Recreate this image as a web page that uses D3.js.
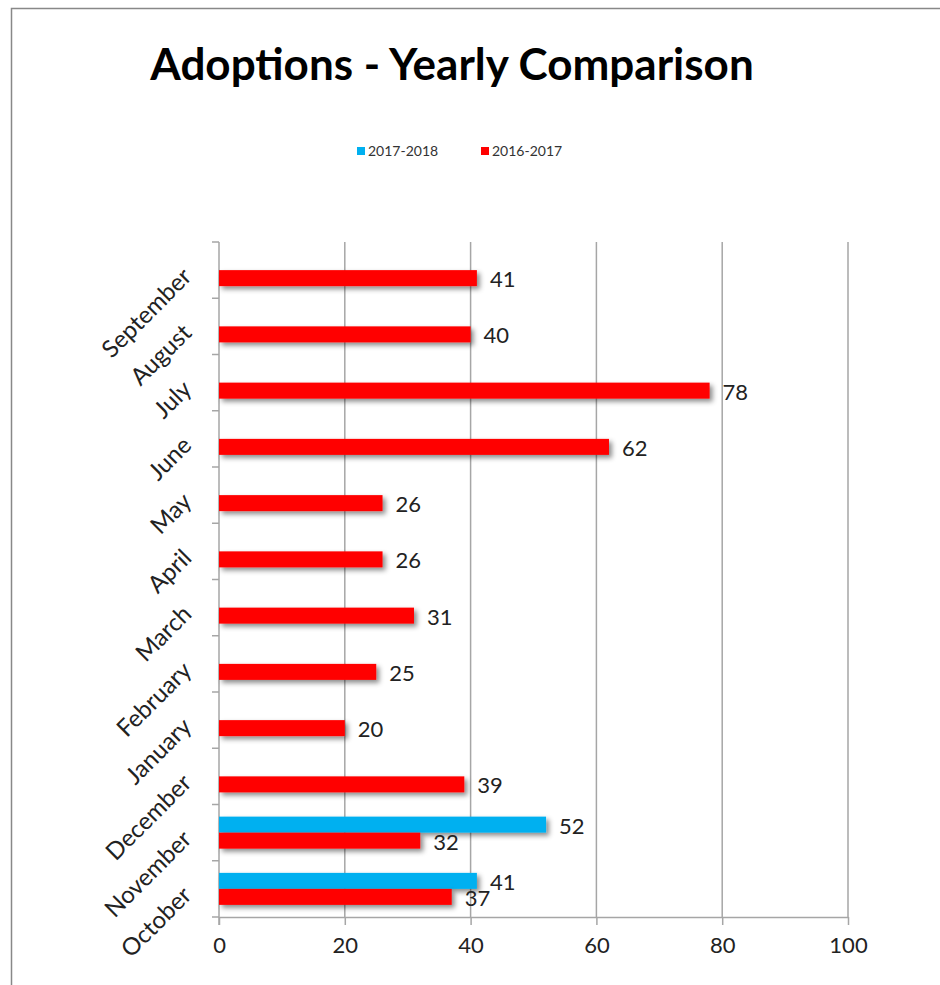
<!DOCTYPE html>
<html>
<head>
<meta charset="utf-8">
<style>
  body { margin: 0; background: #fff; }
  svg text { font-family: Lato, "Open Sans", sans-serif; fill: #222; }
</style>
</head>
<body>
<svg width="940" height="985"></svg>
<script src="https://cdn.jsdelivr.net/npm/d3@7"></script>
<script>

var months = ["October", "November", "December", "January", "February", "March",
              "April", "May", "June", "July", "August", "September"];
var seriesNames = ["2017-2018", "2016-2017"];
var colors = ["#00b0f0", "#ff0000"];
var values1718 = [41, 52, null, null, null, null, null, null, null, null, null, null];
var values1617 = [37, 32, 39, 20, 25, 31, 26, 26, 62, 78, 40, 41];
var xTicks = [0, 20, 40, 60, 80, 100];

var svg = d3.select("svg");

// outer chart border (goes off the right/bottom edge)
svg.append("rect").attr("x", 11.5).attr("y", 8.5).attr("width", 1000).attr("height", 1000)
  .attr("fill", "none").attr("stroke", "#888").attr("stroke-width", 1.5);

var defs = svg.append("defs");
var f = defs.append("filter").attr("id", "shadow").attr("x", "-5%").attr("y", "-50%").attr("width", "115%").attr("height", "220%");
f.append("feDropShadow").attr("dx", 3).attr("dy", 3).attr("stdDeviation", 2.5)
  .attr("flood-color", "#000").attr("flood-opacity", 0.45);

var plotL = 219, plotR = 848, plotT = 242, plotB = 917;

var x = d3.scaleLinear().domain([0, 100]).range([plotL, plotR]);
var y = d3.scaleBand().domain(months.slice().reverse()).range([plotT, plotB]);
var barH = 16;

// title
svg.append("text").attr("x", 452).attr("y", 80).attr("text-anchor", "middle")
  .style("font-size", "44px").style("font-weight", "bold").style("fill", "#000")
  .text("Adoptions - Yearly Comparison");

// legend
var legend = svg.append("g").attr("transform", "translate(357,152)");
seriesNames.forEach(function(name, i) {
  var g = legend.append("g").attr("transform", "translate(" + (i * 124) + ",0)");
  g.append("rect").attr("x", 0).attr("y", -5).attr("width", 8).attr("height", 8).attr("fill", colors[i]);
  g.append("text").attr("x", 11).attr("y", 4).style("font-size", "14px").style("fill", "#333").text(name);
});

// gridlines
svg.append("g").selectAll("line").data(xTicks.slice(1)).enter().append("line")
  .attr("x1", function(d) { return x(d); }).attr("x2", function(d) { return x(d); })
  .attr("y1", plotT).attr("y2", plotB)
  .attr("stroke", "#a6a6a6").attr("stroke-width", 1.5);

// x axis
var xAxis = svg.append("g").attr("transform", "translate(0," + plotB + ")")
  .call(d3.axisBottom(x).tickValues(xTicks).tickSize(8).tickSizeOuter(0).tickPadding(12));
xAxis.select(".domain").attr("stroke", "#a6a6a6").attr("stroke-width", 1.5);
xAxis.selectAll(".tick line").attr("stroke", "#a6a6a6").attr("stroke-width", 1.5);
xAxis.selectAll("text").style("font-size", "22px").style("fill", "#222")
  .style("font-family", "Lato, 'Open Sans', sans-serif");

// y axis ticks at band edges
var edges = months.map(function(m) { return y(m); }).concat([plotB]);
svg.append("line").attr("x1", plotL).attr("x2", plotL).attr("y1", plotT).attr("y2", plotB + 8)
  .attr("stroke", "#a6a6a6").attr("stroke-width", 1.5);
svg.append("g").selectAll("line").data(edges).enter().append("line")
  .attr("x1", plotL - 7).attr("x2", plotL).attr("y1", function(d) { return d; }).attr("y2", function(d) { return d; })
  .attr("stroke", "#a6a6a6").attr("stroke-width", 1.5);

// category labels rotated
svg.append("g").selectAll("text").data(months).enter().append("text")
  .attr("transform", function(d) {
    return "translate(" + (plotL - 26) + "," + (y(d) + y.bandwidth() / 2 + 8) + ") rotate(-45)";
  })
  .attr("text-anchor", "end")
  .style("font-size", "24px")
  .text(function(d) { return d; });

// bars
var series = [values1718, values1617];
series.forEach(function(vals, si) {
  var data = months.map(function(m, i) { return { m: m, v: vals[i] }; }).filter(function(d) { return d.v != null; });
  var off = si === 0 ? -barH : 0;
  svg.append("g").selectAll("rect").data(data).enter().append("rect")
    .attr("x", x(0))
    .attr("y", function(d) { return y(d.m) + y.bandwidth() / 2 + off; })
    .attr("width", function(d) { return x(d.v) - x(0); })
    .attr("height", barH)
    .attr("fill", colors[si])
    .attr("filter", "url(#shadow)");
  svg.append("g").selectAll("text").data(data).enter().append("text")
    .attr("x", function(d) { return x(d.v) + 13; })
    .attr("y", function(d) { return y(d.m) + y.bandwidth() / 2 + off + barH / 2 + 9; })
    .style("font-size", "22px")
    .text(function(d) { return d.v; });
});

</script>
</body>
</html>
